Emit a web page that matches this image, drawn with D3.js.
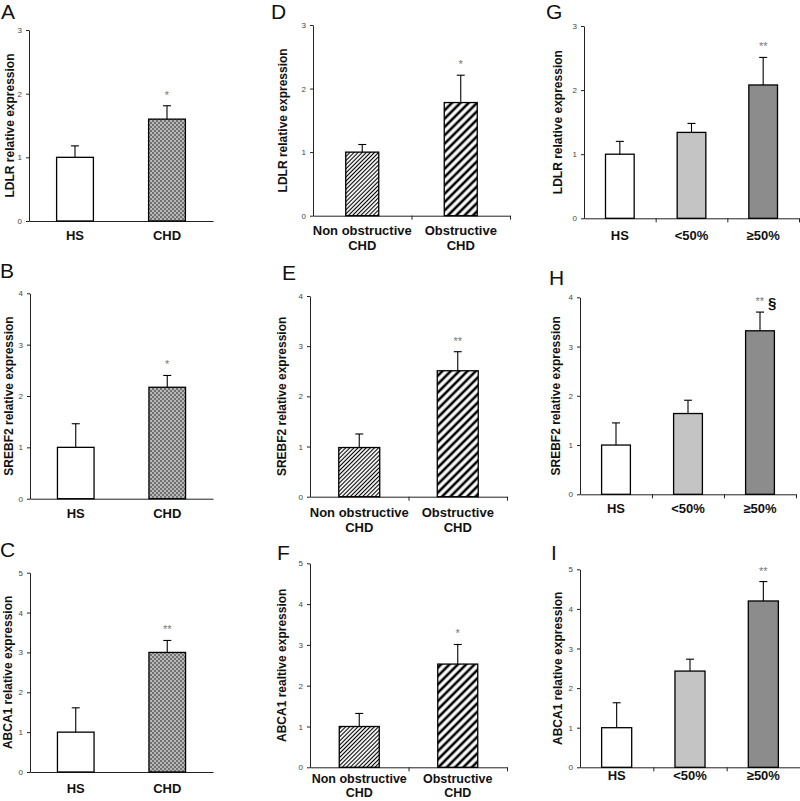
<!DOCTYPE html>
<html>
<head>
<meta charset="utf-8" />
<title>LDLR, SREBF2 and ABCA1 expression</title>
<script src="https://d3js.org/d3.v7.min.js"></script>
<style>
  body { margin: 0; background: #fff; }
  svg text { font-family: "Liberation Sans", Arial, sans-serif; }
</style>
</head>
<body>
<svg id="fig" width="800" height="801"></svg>

<script>
// categories on the x axis
var hsChd = ["HS", "CHD"];
var obstr = [["Non obstructive", "CHD"], ["Obstructive", "CHD"]];
var stenosis = ["HS", "<50%", "\u226550%"];

// y tick labels
var ticks3 = [0, 1, 2, 3];
var ticks4 = [0, 1, 2, 3, 4];
var ticks5 = [0, 1, 2, 3, 4, 5];

// means and upper error bars
var ldlrHsChd = [1.0, 1.6],        ldlrHsChdErr = [0.18, 0.21];
var srebf2HsChd = [1.0, 2.17],     srebf2HsChdErr = [0.46, 0.23];
var abca1HsChd = [1.0, 3.0],       abca1HsChdErr = [0.61, 0.30];
var ldlrObstr = [1.0, 1.78],       ldlrObstrErr = [0.12, 0.43];
var srebf2Obstr = [0.98, 2.51],    srebf2ObstrErr = [0.27, 0.38];
var abca1Obstr = [1.0, 2.53],      abca1ObstrErr = [0.32, 0.48];
var ldlrSten = [1.0, 1.34, 2.08],  ldlrStenErr = [0.20, 0.14, 0.43];
var srebf2Sten = [1.0, 1.64, 3.32], srebf2StenErr = [0.45, 0.27, 0.38];
var abca1Sten = [1.0, 2.43, 4.2],  abca1StenErr = [0.63, 0.30, 0.49];

// significance marks
var sigA = ["", "*"], sigB = ["", "*"], sigC = ["", "**"];
var sigD = ["", "*"], sigE = ["", "**"], sigF = ["", "*"];
var sigG = ["", "", "**"], sigH = ["", "", "**"], sigI = ["", "", "**"];
var sectH = ["", "", "\u00a7"];

var svg = d3.select("#fig");

// bar fills
var defs = svg.append("defs");
var checker = defs.append("pattern").attr("id", "checker")
    .attr("patternUnits", "userSpaceOnUse").attr("width", 4).attr("height", 4);
checker.append("rect").attr("width", 4).attr("height", 4).attr("fill", "#b8b8b8");
checker.append("rect").attr("width", 2).attr("height", 2).attr("fill", "#707070");
checker.append("rect").attr("x", 2).attr("y", 2).attr("width", 2).attr("height", 2).attr("fill", "#707070");

function hatch(id, size, lw) {
    var p = defs.append("pattern").attr("id", id)
        .attr("patternUnits", "userSpaceOnUse")
        .attr("width", size).attr("height", size)
        .attr("patternTransform", "rotate(45)");
    p.append("rect").attr("width", size).attr("height", size).attr("fill", "#fff");
    p.append("line").attr("x1", size / 2).attr("x2", size / 2)
        .attr("y1", 0).attr("y2", size)
        .attr("stroke", "#000").attr("stroke-width", lw);
}
hatch("fineHatch", 2.9, 1.1);
hatch("coarseHatch", 5.9, 2.6);

var fillsHsChd = ["#fff", "url(#checker)"];
var fillsObstr = ["url(#fineHatch)", "url(#coarseHatch)"];
var fillsSten = ["#fff", "#c4c4c4", "#8c8c8c"];

// panel layout
var panels = [
  {letter: "A", label: "LDLR relative expression", cats: hsChd, means: ldlrHsChd, errs: ldlrHsChdErr, sig: sigA, ticks: ticks3, fills: fillsHsChd,
   x0: 29, x1: 213, yTop: 30, y0: 221, barW: 0.40, xTicks: false, lx: 1, ly: 19, ylx: 9.5, xlOff: 19, lineGap: 15, xlSize: 13},
  {letter: "B", label: "SREBF2 relative expression", cats: hsChd, means: srebf2HsChd, errs: srebf2HsChdErr, sig: sigB, ticks: ticks4, fills: fillsHsChd,
   x0: 30, x1: 213, yTop: 293.3, y0: 498.7, barW: 0.40, xTicks: false, lx: 0, ly: 278, ylx: 9, xlOff: 19.5, lineGap: 15, xlSize: 13},
  {letter: "C", label: "ABCA1  relative expression", cats: hsChd, means: abca1HsChd, errs: abca1HsChdErr, sig: sigC, ticks: ticks5, fills: fillsHsChd,
   x0: 30, x1: 213, yTop: 572.7, y0: 772, barW: 0.40, xTicks: false, lx: 0, ly: 557, ylx: 8, xlOff: 21, lineGap: 15, xlSize: 13},
  {letter: "D", label: "LDLR relative expression", cats: obstr, means: ldlrObstr, errs: ldlrObstrErr, sig: sigD, ticks: ticks3, fills: fillsObstr,
   x0: 313, x1: 510, yTop: 25, y0: 215.7, barW: 0.335, xTicks: true, lx: 271, ly: 19, ylx: 283, xlOff: 19.5, lineGap: 15, xlSize: 13},
  {letter: "E", label: "SREBF2 relative expression", cats: obstr, means: srebf2Obstr, errs: srebf2ObstrErr, sig: sigE, ticks: ticks4, fills: fillsObstr,
   x0: 310, x1: 507, yTop: 296, y0: 496.7, barW: 0.416, xTicks: true, lx: 282, ly: 280, ylx: 282, xlOff: 20, lineGap: 15, xlSize: 13},
  {letter: "F", label: "ABCA1 realtive expression", cats: obstr, means: abca1Obstr, errs: abca1ObstrErr, sig: sigF, ticks: ticks5, fills: fillsObstr,
   x0: 310, x1: 507, yTop: 563.3, y0: 767.3, barW: 0.406, xTicks: true, lx: 277, ly: 560, ylx: 282, xlOff: 15.5, lineGap: 14, xlSize: 12.5},
  {letter: "G", label: "LDLR relative expression", cats: stenosis, means: ldlrSten, errs: ldlrStenErr, sig: sigG, ticks: ticks3, fills: fillsSten,
   x0: 584, x1: 799, yTop: 26, y0: 218.3, barW: 0.40, xTicks: true, lx: 546, ly: 19, ylx: 557.5, xlOff: 22, lineGap: 15, xlSize: 13},
  {letter: "H", label: "SREBF2 relative expression", cats: stenosis, means: srebf2Sten, errs: srebf2StenErr, sig: sigH, sect: sectH, ticks: ticks4, fills: fillsSten,
   x0: 580, x1: 796, yTop: 297.3, y0: 494.3, barW: 0.40, xTicks: true, lx: 549, ly: 285, ylx: 556, xlOff: 19, lineGap: 15, xlSize: 13},
  {letter: "I", label: "ABCA1 relative expression", cats: stenosis, means: abca1Sten, errs: abca1StenErr, sig: sigI, ticks: ticks5, fills: fillsSten,
   x0: 580, x1: 800, yTop: 569.3, y0: 767.3, barW: 0.41, xTicks: true, lx: 551, ly: 560, ylx: 558, xlOff: 13, lineGap: 15, xlSize: 13}
];

panels.forEach(function(p) {
    var n = p.cats.length;
    var g = svg.append("g");

    var y = d3.scaleLinear().domain([0, d3.max(p.ticks)]).range([p.y0, p.yTop]);
    var x = d3.scaleBand().domain(d3.range(n)).range([p.x0, p.x1]);
    var xEdge = d3.scaleLinear().domain([0, n]).range([p.x0, p.x1]);

    // panel letter
    g.append("text").attr("x", p.lx).attr("y", p.ly)
        .attr("font-size", 21).attr("fill", "#111").text(p.letter);

    // y axis
    var ya = g.append("g").attr("transform", "translate(" + p.x0 + ",0)")
        .call(d3.axisLeft(y).tickValues(p.ticks).tickFormat(d3.format("d"))
            .tickSize(3).tickPadding(4).tickSizeOuter(0));
    ya.selectAll("text").attr("font-size", 8).attr("fill", "#444")
        .style("font-family", "'Liberation Sans', Arial, sans-serif");
    ya.selectAll("line, path").attr("stroke", "#222");

    // x axis
    var xa = g.append("g").attr("transform", "translate(0," + p.y0 + ")")
        .call(d3.axisBottom(xEdge).tickValues(p.xTicks ? d3.range(1, n + 1) : [])
            .tickSize(4).tickSizeOuter(0).tickFormat(""));
    xa.selectAll("line, path").attr("stroke", "#222");

    // y label
    g.append("text")
        .attr("transform", "translate(" + p.ylx + "," + ((p.y0 + p.yTop) / 2) + ") rotate(-90)")
        .attr("dy", "0.35em").attr("text-anchor", "middle")
        .attr("font-size", 12).attr("font-weight", "bold").attr("fill", "#111")
        .text(p.label);

    var rows = p.cats.map(function(c, i) {
        return {i: i, cat: c, m: p.means[i], e: p.errs[i], s: p.sig[i],
                sect: p.sect ? p.sect[i] : "", fill: p.fills[i]};
    });
    var bw = x.bandwidth() * p.barW;
    function cx(d) { return x(d.i) + x.bandwidth() / 2; }

    // bars
    g.selectAll("rect.bar").data(rows).enter().append("rect")
        .attr("class", "bar")
        .attr("x", function(d) { return cx(d) - bw / 2; })
        .attr("y", function(d) { return y(d.m); })
        .attr("width", bw)
        .attr("height", function(d) { return p.y0 - y(d.m); })
        .attr("fill", function(d) { return d.fill; })
        .attr("stroke", "#000").attr("stroke-width", 1.3);

    // error bars (upper only)
    g.selectAll("line.err").data(rows).enter().append("line")
        .attr("class", "err")
        .attr("x1", cx).attr("x2", cx)
        .attr("y1", function(d) { return y(d.m); })
        .attr("y2", function(d) { return y(d.m + d.e); })
        .attr("stroke", "#000").attr("stroke-width", 1.1);
    g.selectAll("line.cap").data(rows).enter().append("line")
        .attr("class", "cap")
        .attr("x1", function(d) { return cx(d) - 4; })
        .attr("x2", function(d) { return cx(d) + 4; })
        .attr("y1", function(d) { return y(d.m + d.e); })
        .attr("y2", function(d) { return y(d.m + d.e); })
        .attr("stroke", "#000").attr("stroke-width", 1.1);

    // significance
    var st = g.selectAll("text.sig").data(rows.filter(function(d) { return d.s; }))
        .enter().append("text").attr("class", "sig")
        .attr("x", function(d) { return cx(d) + (d.sect ? 6 : 0); })
        .attr("y", function(d) { return y(d.m + d.e) - 7; })
        .attr("text-anchor", "middle");
    st.append("tspan").attr("font-size", 11).attr("fill", "#777")
        .text(function(d) { return d.s; });
    st.filter(function(d) { return d.sect; }).append("tspan")
        .attr("font-size", 15).attr("font-weight", "bold").attr("fill", "#111")
        .attr("dx", 4).attr("dy", 3)
        .text(function(d) { return d.sect; });

    // category labels
    var xl = g.selectAll("text.cat").data(rows).enter().append("text")
        .attr("class", "cat")
        .attr("text-anchor", "middle")
        .attr("font-size", p.xlSize).attr("font-weight", "bold").attr("fill", "#111")
        .attr("y", p.y0 + p.xlOff);
    xl.selectAll("tspan")
        .data(function(d) {
            var lines = Array.isArray(d.cat) ? d.cat : [d.cat];
            return lines.map(function(t) { return {t: t, x: cx(d)}; });
        })
        .enter().append("tspan")
        .attr("x", function(l) { return l.x; })
        .attr("dy", function(l, k) { return k ? p.lineGap : 0; })
        .text(function(l) { return l.t; });
});
</script>
</body>
</html>
